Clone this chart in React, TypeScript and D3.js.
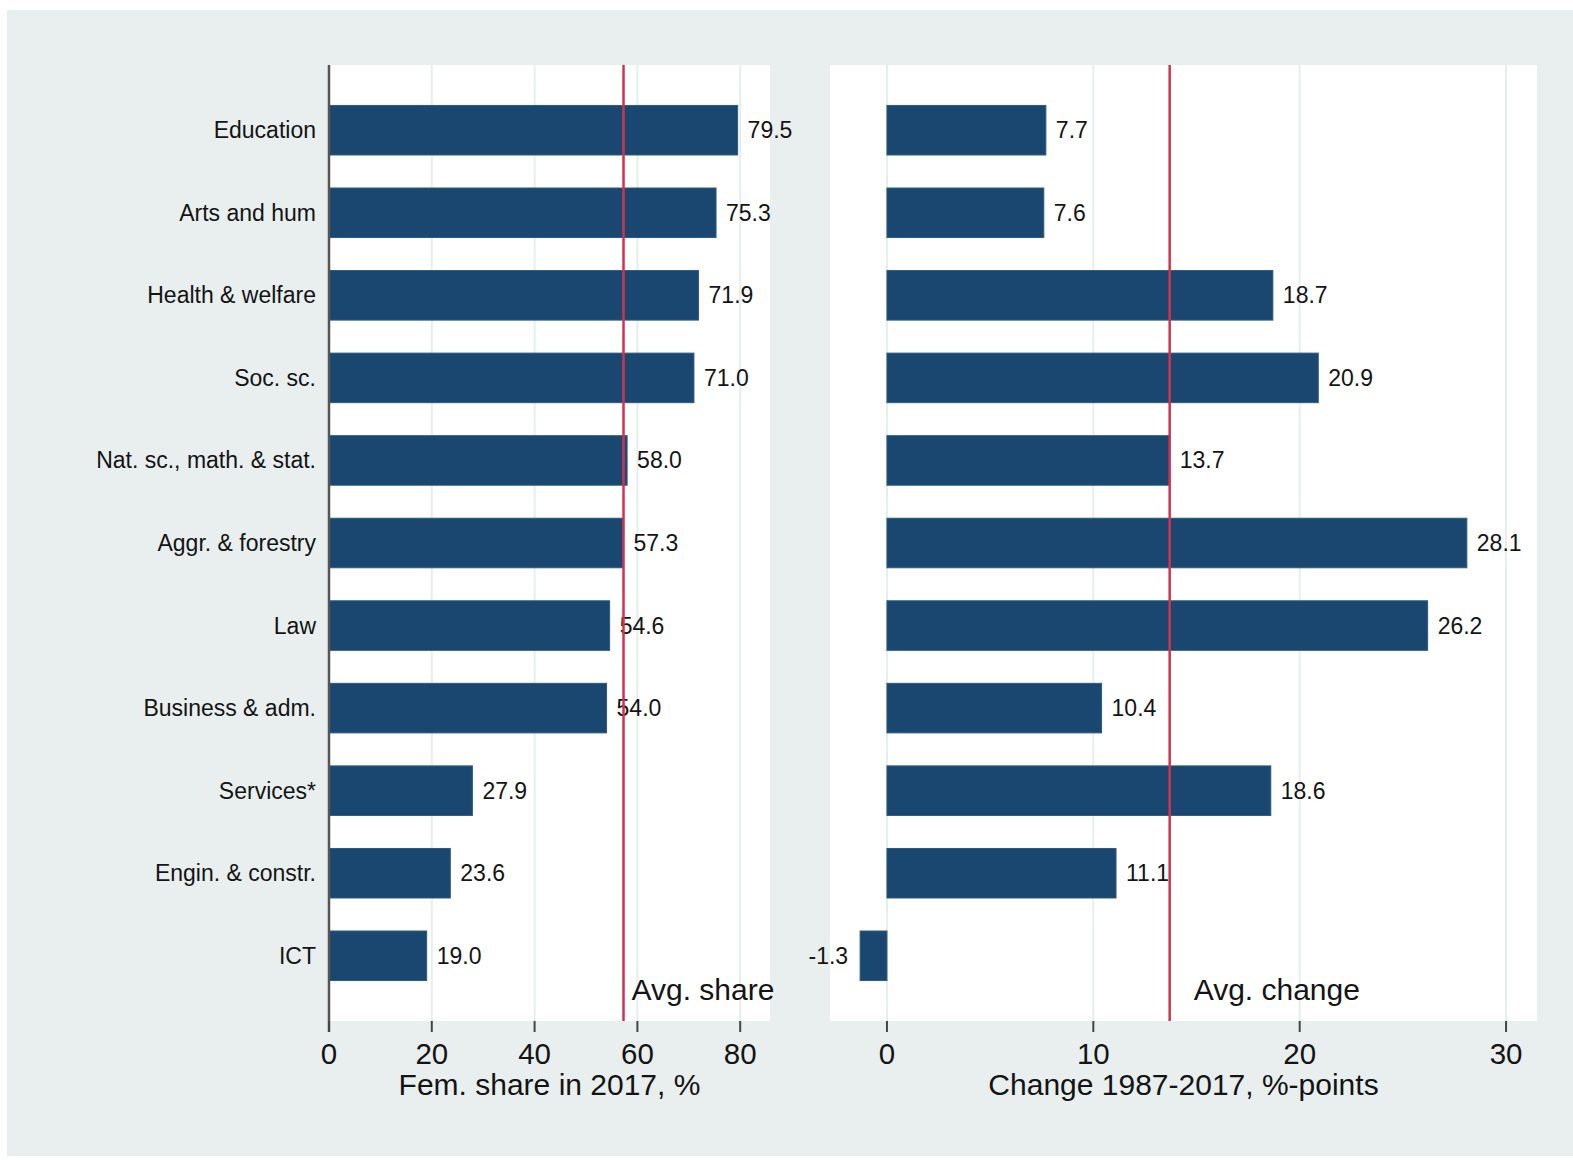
import React from 'react';
import * as d3 from 'd3';

const categories = [
  'Education', 'Arts and hum', 'Health & welfare', 'Soc. sc.', 'Nat. sc., math. & stat.',
  'Aggr. & forestry', 'Law', 'Business & adm.', 'Services*', 'Engin. & constr.', 'ICT',
];
const femShare = [79.5, 75.3, 71.9, 71.0, 58.0, 57.3, 54.6, 54.0, 27.9, 23.6, 19.0];
const change = [7.7, 7.6, 18.7, 20.9, 13.7, 28.1, 26.2, 10.4, 18.6, 11.1, -1.3];
const avgShare = 57.3;
const avgChange = 13.7;
const shareTicks = [0, 20, 40, 60, 80];
const changeTicks = [0, 10, 20, 30];

const W = 1573;
const H = 1160;
const BG = '#e8efee';
const BAR = '#1a476f';
const RED = '#d2314f';
const GRID = '#e6efee';
const TXT = '#141414';
const FONT = '"Liberation Sans", Arial, sans-serif';

const top = 65;
const bottom = 1021;

interface PanelProps {
  values: number[];
  domain: [number, number];
  range: [number, number];
  ticks: number[];
  avg: number;
  avgLabel: string;
  avgOffset: number;
  title: string;
  showAxisLine: boolean;
}

const y = d3.scaleBand<string>()
  .domain(categories)
  .range([top, bottom])
  .paddingInner(0.4)
  .paddingOuter(0.49);

const Panel: React.FC<PanelProps> = ({ values, domain, range, ticks, avg, avgLabel, avgOffset, title, showAxisLine }) => {
  const x = d3.scaleLinear().domain(domain).range(range);
  const x0 = x(0);
  return (
    <g>
      <rect x={range[0]} y={top} width={range[1] - range[0]} height={bottom - top} fill="#fff" />
      {ticks.map(t => (
        <line key={'g' + t} x1={x(t)} x2={x(t)} y1={top} y2={bottom} stroke={GRID} strokeWidth={2} />
      ))}
      {categories.map((c, i) => {
        const v = values[i];
        const x1 = Math.min(x0, x(v));
        const w = Math.abs(x(v) - x0);
        const cy = (y(c) as number) + y.bandwidth() / 2;
        return (
          <g key={c}>
            <rect x={x1} y={y(c)} width={w} height={y.bandwidth()} fill={BAR} stroke="#2c5a80" strokeWidth={1} />
            <text
              x={v >= 0 ? x(v) + 10 : x(v) - 12}
              y={cy}
              dy="0.35em"
              textAnchor={v >= 0 ? 'start' : 'end'}
              fontSize={23}
              fill={TXT}
            >
              {v.toFixed(1)}
            </text>
          </g>
        );
      })}
      <line x1={x(avg)} x2={x(avg)} y1={top} y2={bottom} stroke={RED} strokeWidth={2.5} />
      <text x={x(avg) + avgOffset} y={1000} fontSize={30} fill={TXT}>{avgLabel}</text>
      {showAxisLine && (
        <line x1={x0} x2={x0} y1={top} y2={bottom + 11} stroke="#555" strokeWidth={2.5} />
      )}
      {ticks.map(t => (
        <g key={'t' + t}>
          <line x1={x(t)} x2={x(t)} y1={bottom} y2={bottom + 11} stroke="#444" strokeWidth={2} />
          <text x={x(t)} y={1064} textAnchor="middle" fontSize={29.5} fill={TXT}>{t}</text>
        </g>
      ))}
      <text x={(range[0] + range[1]) / 2} y={1095} textAnchor="middle" fontSize={30} fill={TXT}>{title}</text>
    </g>
  );
};

export default function App() {
  return (
    <div style={{ position: 'absolute', left: 0, top: 0 }}>
      <svg width={W} height={H} style={{ display: 'block', fontFamily: FONT }}>
        <rect x={0} y={0} width={W} height={H} fill="#fff" />
        <rect x={7} y={10} width={W - 7} height={1146} fill={BG} />
        {categories.map(c => (
          <text
            key={c}
            x={316}
            y={(y(c) as number) + y.bandwidth() / 2}
            dy="0.35em"
            textAnchor="end"
            fontSize={23}
            fill={TXT}
          >
            {c}
          </text>
        ))}
        <Panel
          values={femShare}
          domain={[0, 85.8]}
          range={[329, 770]}
          ticks={shareTicks}
          avg={avgShare}
          avgLabel="Avg. share"
          avgOffset={8}
          title="Fem. share in 2017, %"
          showAxisLine={true}
        />
        <Panel
          values={change}
          domain={[-2.76, 31.5]}
          range={[830, 1537]}
          ticks={changeTicks}
          avg={avgChange}
          avgLabel="Avg. change"
          avgOffset={24}
          title="Change 1987-2017, %-points"
          showAxisLine={false}
        />
      </svg>
    </div>
  );
}
